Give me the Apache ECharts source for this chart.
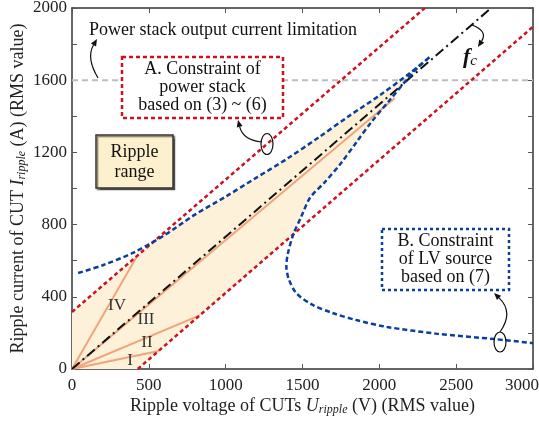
<!DOCTYPE html>
<html>
<head>
<meta charset="utf-8">
<script src="https://cdn.jsdelivr.net/npm/echarts@6/dist/echarts.min.js"></script>
<style>
html,body{margin:0;padding:0;background:#fff;}
#chart{width:539px;height:424px;}
</style>
</head>
<body>
<div id="chart"></div>
<script>
// values
const limitCurrent = 1600
const redUpper = [[0, 316], [2296, 2000]]
const redLower = [[428, 0], [3000, 1896]]
const fcLine = [[0, 0], [2728, 2000]]

// LV source constraint, from the left end, round the tip, down to the right
const blueX = [40, 200, 400, 600, 800, 1000, 1200, 1400, 1600, 1800, 2000, 2200, 2330,
  2250, 2177, 2068, 1950, 1850, 1750, 1640, 1550, 1490, 1440, 1405, 1395, 1410, 1460, 1560, 1700, 1850, 2050, 2370, 2760, 3000]
const blueY = [532, 575, 645, 740, 855, 955, 1060, 1165, 1280, 1400, 1515, 1640, 1730,
  1670, 1601, 1490, 1370, 1255, 1140, 1030, 950, 840, 745, 640, 570, 500, 420, 358, 309, 271, 233, 196, 165, 143]

// operating lines I..IV
const lineI = [[0, 0], [565, 100]]
const lineII = [[0, 0], [831, 297]]
const lineIII = [[0, 0], [2100, 1500]]
const lineIV = [[0, 0], [420, 620]]

// ripple range outline
const rangeX = [0, 0, 580, 800, 1000, 1200, 1400, 1600, 1800, 2000, 2200, 2230, 2177, 2068, 1950, 1850, 1750, 1640, 1550, 1490, 1440, 428]
const rangeY = [0, 316, 741, 855, 955, 1060, 1165, 1280, 1400, 1515, 1640, 1650, 1601, 1490, 1370, 1255, 1140, 1030, 950, 840, 745, 0]

const serif = 'Liberation Serif'
const red = '#cf1020'
const blue = '#0b3f9f'
const orange = '#f0a47c'

function pairs(xs, ys) { return xs.map((x, i) => [x, ys[i]]) }

function lineSeries(data, color, width, dash, z, smooth) {
  return {
    type: 'line', data: data, showSymbol: false, silent: true, z: z,
    smooth: smooth || false,
    lineStyle: { color: color, width: width, type: dash, cap: 'butt' }
  }
}

function arrow(p0, cp, p1) {
  const ang = Math.atan2(p1[1] - cp[1], p1[0] - cp[0])
  const L = 7, W = 3
  const bx = p1[0] - L * Math.cos(ang), by = p1[1] - L * Math.sin(ang)
  const nx = -Math.sin(ang) * W, ny = Math.cos(ang) * W
  return [
    { type: 'bezierCurve', shape: { x1: p0[0], y1: p0[1], x2: bx, y2: by, cpx1: cp[0], cpy1: cp[1] },
      style: { stroke: '#111', lineWidth: 1.2, fill: 'none' }, z: 100 },
    { type: 'polygon', shape: { points: [p1, [bx + nx, by + ny], [bx - nx, by - ny]] },
      style: { fill: '#111' }, z: 100 }
  ]
}

function label(text, x, y, size, align, color) {
  return {
    type: 'text', x: x, y: y, z: 100,
    style: { text: text, fontFamily: serif, fontSize: size, lineHeight: 18, fill: color || '#111', align: align || 'center', verticalAlign: 'middle' }
  }
}

const nameRich = {
  n: { fontFamily: serif, fontSize: 18, color: '#222', lineHeight: 20 },
  i: { fontFamily: serif, fontSize: 18, fontStyle: 'italic', color: '#222', lineHeight: 20 },
  s: { fontFamily: serif, fontSize: 12, fontStyle: 'italic', color: '#222', lineHeight: 14, verticalAlign: 'bottom' }
}

const axisBase = {
  type: 'value', min: 0,
  axisLine: { show: true, onZero: false, lineStyle: { color: '#333', width: 1.5 } },
  axisTick: { show: true, inside: true, length: 5, lineStyle: { color: '#555' } },
  splitLine: { show: false },
  axisLabel: { fontFamily: serif, fontSize: 17, color: '#222', formatter: v => String(v) }
}

const chart = echarts.init(document.getElementById('chart'))
chart.setOption({
  animation: false,
  grid: { left: 72, right: 6, top: 8, bottom: 55, outerBoundsMode: 'none', containLabel: false },
  xAxis: [
    Object.assign({}, axisBase, {
      max: 3000, interval: 500, position: 'bottom',
      axisLabel: {
        fontFamily: serif, fontSize: 17, color: '#222', margin: 8,
        // last label sits against the page edge
        formatter: v => v === 3000 ? '{r|3000}' : String(v),
        rich: { r: { fontFamily: serif, fontSize: 17, color: '#222', padding: [0, 22, 0, 0] } }
      },
      name: '{n|Ripple voltage of CUTs }{i|U}{s|ripple}{n| (V) (RMS value)}',
      nameLocation: 'middle', nameGap: 27, nameMoveOverlap: false,
      nameTextStyle: { rich: nameRich }
    }),
    Object.assign({}, axisBase, { max: 3000, interval: 500, position: 'top', axisLabel: { show: false } })
  ],
  yAxis: [
    Object.assign({}, axisBase, {
      max: 2000, interval: 400, position: 'left',
      minorTick: { show: true, splitNumber: 2, length: 5, lineStyle: { color: '#555' } },
      axisLabel: { fontFamily: serif, fontSize: 17, color: '#222', margin: 5, formatter: v => String(v) },
      name: '{n|Ripple current of CUT }{i|I}{s|ripple}{n| (A) (RMS value)}',
      nameLocation: 'middle', nameGap: 44, nameMoveOverlap: false,
      nameTextStyle: { rich: nameRich }
    }),
    Object.assign({}, axisBase, {
      max: 2000, interval: 400, position: 'right', axisLabel: { show: false },
      minorTick: { show: true, splitNumber: 2, length: 5, lineStyle: { color: '#555' } }
    })
  ],
  series: [
    {
      type: 'custom', silent: true, z: 1, data: [0],
      renderItem: function (params, api) {
        const pts = rangeX.map((x, i) => api.coord([x, rangeY[i]]))
        return { type: 'polygon', shape: { points: pts }, style: { fill: '#fdf2d9' } }
      }
    },
    lineSeries(lineI, orange, 2, 'solid', 2),
    lineSeries(lineII, orange, 2, 'solid', 2),
    lineSeries(lineIII, orange, 2, 'solid', 2),
    lineSeries(lineIV, orange, 2, 'solid', 2),
    lineSeries([[0, limitCurrent], [3000, limitCurrent]], '#bdbdbd', 2, [6, 4], 3),
    lineSeries(fcLine, '#111', 2, [10, 4, 2, 4], 4),
    lineSeries(redUpper, red, 2.5, [4, 3], 5),
    lineSeries(redLower, red, 2.5, [4, 3], 5),
    lineSeries(pairs(blueX, blueY), blue, 2.5, [5, 3], 6, 0.3)
  ],
  graphic: [
    label('Power stack output current limitation', 89, 30, 18, 'left'),
    { type: 'rect', z: 90, shape: { x: 122, y: 57, width: 161, height: 61 },
      style: { fill: '#fff', stroke: red, lineWidth: 2.5, lineDash: [4, 3] } },
    label('A. Constraint of\npower stack\nbased on (3) ~ (6)', 202.5, 87, 18),
    { type: 'rect', z: 90, shape: { x: 96, y: 135, width: 77, height: 53 },
      style: { fill: '#fdf0cd', stroke: '#333', lineWidth: 1.5, shadowColor: 'rgba(0,0,0,0.5)', shadowOffsetX: 1.5, shadowOffsetY: 1.5, shadowBlur: 1 } },
    { type: 'text', x: 134.5, y: 162, z: 100,
      style: { text: 'Ripple\nrange', fontFamily: serif, fontSize: 18, lineHeight: 20, fill: '#111', align: 'center', verticalAlign: 'middle' } },
    { type: 'rect', z: 90, shape: { x: 382, y: 229, width: 127, height: 61 },
      style: { fill: '#fff', stroke: blue, lineWidth: 2.5, lineDash: [3, 3] } },
    label('B. Constraint\nof LV source\nbased on (7)', 445.5, 259, 18),
    { type: 'ellipse', z: 100, shape: { cx: 267, cy: 144, rx: 6, ry: 10.5 }, style: { fill: 'none', stroke: '#111', lineWidth: 1.2 } },
    { type: 'ellipse', z: 100, shape: { cx: 500, cy: 342, rx: 6, ry: 10 }, style: { fill: 'none', stroke: '#111', lineWidth: 1.2 } },
    ...arrow([98, 78], [86, 58], [97, 39]),
    ...arrow([262, 142], [243, 140], [238, 120]),
    ...arrow([472, 25], [488, 31], [478, 47]),
    ...arrow([500, 332], [514, 312], [494, 293]),
    { type: 'text', x: 463, y: 57, z: 100,
      style: { text: '{f|f}{c|c}', verticalAlign: 'middle',
        rich: {
          f: { fontFamily: serif, fontSize: 22, fontStyle: 'italic', fontWeight: 'bold', fill: '#111', lineHeight: 24 },
          c: { fontFamily: serif, fontSize: 15, fontStyle: 'italic', fill: '#111', lineHeight: 16, verticalAlign: 'bottom' }
        } } },
    label('I', 130, 361, 17, 'center', '#333'),
    label('II', 147, 343, 17, 'center', '#333'),
    label('III', 146, 320, 17, 'center', '#333'),
    label('IV', 117, 306, 17, 'center', '#333')
  ]
})
</script>
</body>
</html>
